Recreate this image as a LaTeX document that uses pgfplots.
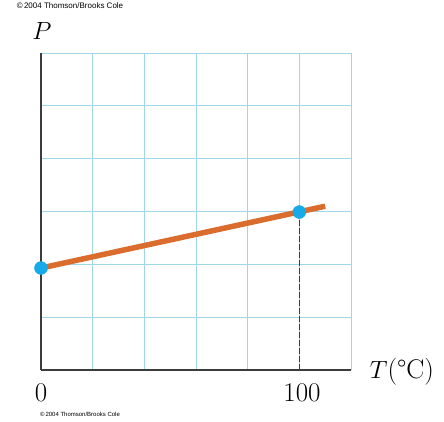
\documentclass[border=0pt]{standalone}
\usepackage{fontspec}
\usepackage{pgfplots}
\pgfplotsset{compat=1.18}
\newfontfamily\cfont{Liberation Sans}
\definecolor{gridblue}{RGB}{160,214,232}
\definecolor{lineor}{RGB}{218,108,46}
\definecolor{dotblue}{RGB}{22,170,232}
\definecolor{axdark}{RGB}{60,60,60}
\begin{document}
\begin{tikzpicture}
\path[use as bounding box] (-41pt,-51pt) rectangle (403pt,370pt);
\begin{axis}[
  at={(0pt,0pt)}, anchor=south west,
  scale only axis, width=310pt, height=317pt,
  xmin=0, xmax=120, ymin=0, ymax=6,
  xtick={0,20,...,120}, ytick={0,1,...,6},
  xticklabels={}, yticklabels={},
  major tick length=0pt,
  grid=major,
  major grid style={gridblue, line width=1pt},
  axis lines=left,
  axis line style={-, axdark, line width=1.1pt},
  clip=false,
]
\addplot[axdark, line width=0.9pt, dash pattern=on 6pt off 2pt] coordinates {(100,0) (100,2.99)};
\addplot[lineor, line width=5.5pt, line cap=butt] coordinates {(0,1.93) (110,3.10)};
\addplot[only marks, mark=*, mark size=6.5pt, mark options={fill=dotblue, draw=dotblue}] coordinates {(0,1.93) (100,2.99)};
\end{axis}
\node at (1pt,339pt) {\fontsize{24}{28}\selectfont $P$};
\node at (0pt,-23pt) {\fontsize{27}{30}\selectfont 0};
\node at (261pt,-23pt) {\fontsize{27}{30}\selectfont 100};
\node at (361pt,-2pt) {\fontsize{27}{30}\selectfont $T$(\textdegree C)};
\node at (29pt,364pt) {\cfont\fontsize{8}{9}\selectfont \textcopyright\,2004 Thomson/Brooks Cole};
\node at (39pt,-44pt) {\cfont\fontsize{6}{7}\selectfont \textcopyright\,2004 Thomson/Brooks Cole};
\end{tikzpicture}
\end{document}
